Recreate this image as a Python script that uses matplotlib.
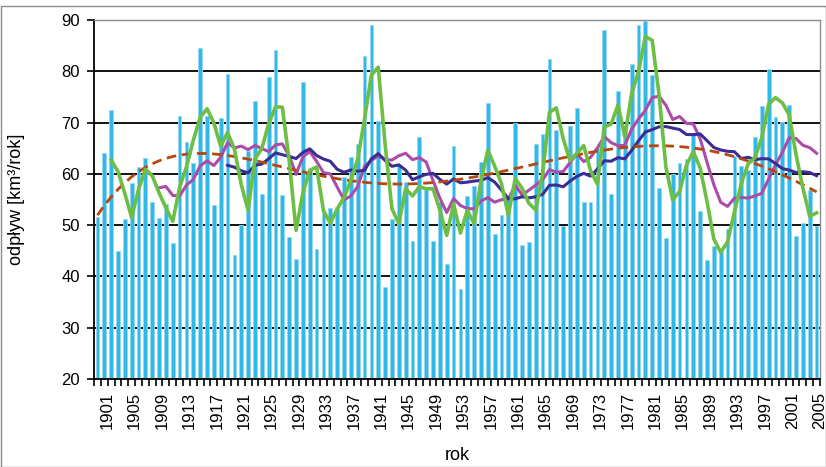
"""
plot.py - annual river outflow 1900-2005 with moving averages and a
polynomial trend (recreation of an Excel chart).
"""
import numpy as np
import pandas as pd
import matplotlib

matplotlib.use("Agg")
import matplotlib.pyplot as plt
from matplotlib.patches import Rectangle
from matplotlib.transforms import ScaledTranslation

plt.rcParams["font.family"] = ["Liberation Sans", "DejaVu Sans"]

# ---------------------------------------------------------------------------
# data (km3 per year)
# ---------------------------------------------------------------------------
YEARS = list(range(1900, 2006))
OUTFLOW = [
    51.6, 64.1, 72.4, 44.9, 51.2, 58.3, 61.4, 63.0, 54.5, 51.4,   # 1900s
    54.2, 46.6, 71.3, 66.2, 62.2, 84.6, 71.3, 53.9, 70.9, 79.4,   # 1910s
    44.2, 50.1, 64.4, 74.3, 56.1, 78.9, 84.2, 55.9, 47.6, 43.4,   # 1920s
    78.0, 60.7, 45.3, 52.5, 53.3, 53.5, 59.4, 63.3, 65.8, 83.0,   # 1930s
    89.0, 70.4, 38.0, 51.2, 61.7, 58.4, 47.0, 67.1, 57.2, 47.0,   # 1940s
    54.5, 42.5, 65.4, 37.5, 55.7, 57.7, 62.3, 73.9, 48.3, 51.9,   # 1950s
    55.5, 69.9, 46.2, 46.7, 65.9, 67.8, 82.3, 68.5, 49.9, 69.3,   # 1960s
    72.8, 54.5, 54.5, 65.0, 88.0, 56.1, 76.2, 69.3, 81.5, 89.0,   # 1970s
    89.8, 79.3, 57.2, 47.5, 60.0, 62.2, 62.8, 68.0, 52.7, 43.2,   # 1980s
    46.0, 44.9, 49.2, 63.5, 61.5, 60.8, 67.1, 73.2, 80.4, 71.0,   # 1990s
    70.1, 73.4, 47.8, 50.5, 56.8, 49.9,                           # 2000s
]
TICK_YEARS = list(range(1901, 2006, 4))

# trendlines: trailing moving averages + polynomial (Excel style)
MA_WINDOWS = [10, 20, 3]
MA_COLORS = {3: "#6DBE45", 10: "#AD4BAA", 20: "#3B2D93"}
POLY_ORDER = 5

BAR_COLOR = "#2FB8E8"
BAR_EDGE = "#96D9F1"
TREND_COLOR = "#B5470F"


def main():
    s = pd.Series(OUTFLOW, index=YEARS, dtype=float)
    x = s.index.values.astype(float)

    fig = plt.figure(figsize=(8.26, 4.67), dpi=100)
    ax = fig.add_axes([94 / 826, 88 / 467, 726 / 826, 359 / 467])

    # chart-area border
    fig.patches.append(Rectangle((0.5 / 826, 0.5 / 467), 825 / 826, 461 / 467,
                                 transform=fig.transFigure, fill=False,
                                 edgecolor="#8c8c8c", lw=1.0))

    ax.bar(x, s.values, width=0.55, color=BAR_COLOR, edgecolor=BAR_EDGE,
           linewidth=0.6, zorder=2)

    # polynomial trend, category index 1..N like Excel
    xi = np.arange(1, len(x) + 1, dtype=float)
    coef = np.polyfit(xi, s.values, POLY_ORDER)
    ax.plot(x, np.polyval(coef, xi), color=TREND_COLOR, lw=2.0,
            ls=(0, (3.5, 2.0)), zorder=4)

    for w in MA_WINDOWS:
        ma = s.rolling(w).mean()
        lw = 2.6 if w == 3 else 2.2
        ax.plot(x, ma.values, color=MA_COLORS[w], lw=lw, zorder=3 if w != 3 else 5,
                solid_joinstyle="round")

    ax.set_xlim(1899.5, 2005.5)
    ax.set_ylim(20, 90)
    ax.set_yticks(range(20, 91, 10))
    ax.yaxis.grid(True, color="black", lw=1.3, zorder=0)
    ax.set_axisbelow(True)

    ax.set_xticks(TICK_YEARS)
    ax.set_xticklabels([str(t) for t in TICK_YEARS], rotation=90)
    ax.set_xticks(np.arange(1899.5, 2006, 1.0), minor=True)
    ax.tick_params(axis="x", which="major", length=0, pad=9, labelsize=12)
    ax.tick_params(axis="x", which="minor", length=5, width=1.2, direction="out")
    ax.tick_params(axis="y", length=5, width=1.2, pad=5, labelsize=12)
    shift = ScaledTranslation(0.03, 0, fig.dpi_scale_trans)
    for lab in ax.get_xticklabels():
        lab.set_transform(lab.get_transform() + shift)

    for side in ("top", "right"):
        ax.spines[side].set_color("#8c8c8c")
        ax.spines[side].set_linewidth(1.0)
    for side in ("left", "bottom"):
        ax.spines[side].set_color("black")
        ax.spines[side].set_linewidth(1.3)

    ax.set_xlabel("rok", fontsize=13, labelpad=13)
    ax.set_ylabel("odpływ [km³/rok]", fontsize=13, labelpad=26)

    fig.savefig("out.png", dpi=100)
    plt.close(fig)


if __name__ == "__main__":
    main()
